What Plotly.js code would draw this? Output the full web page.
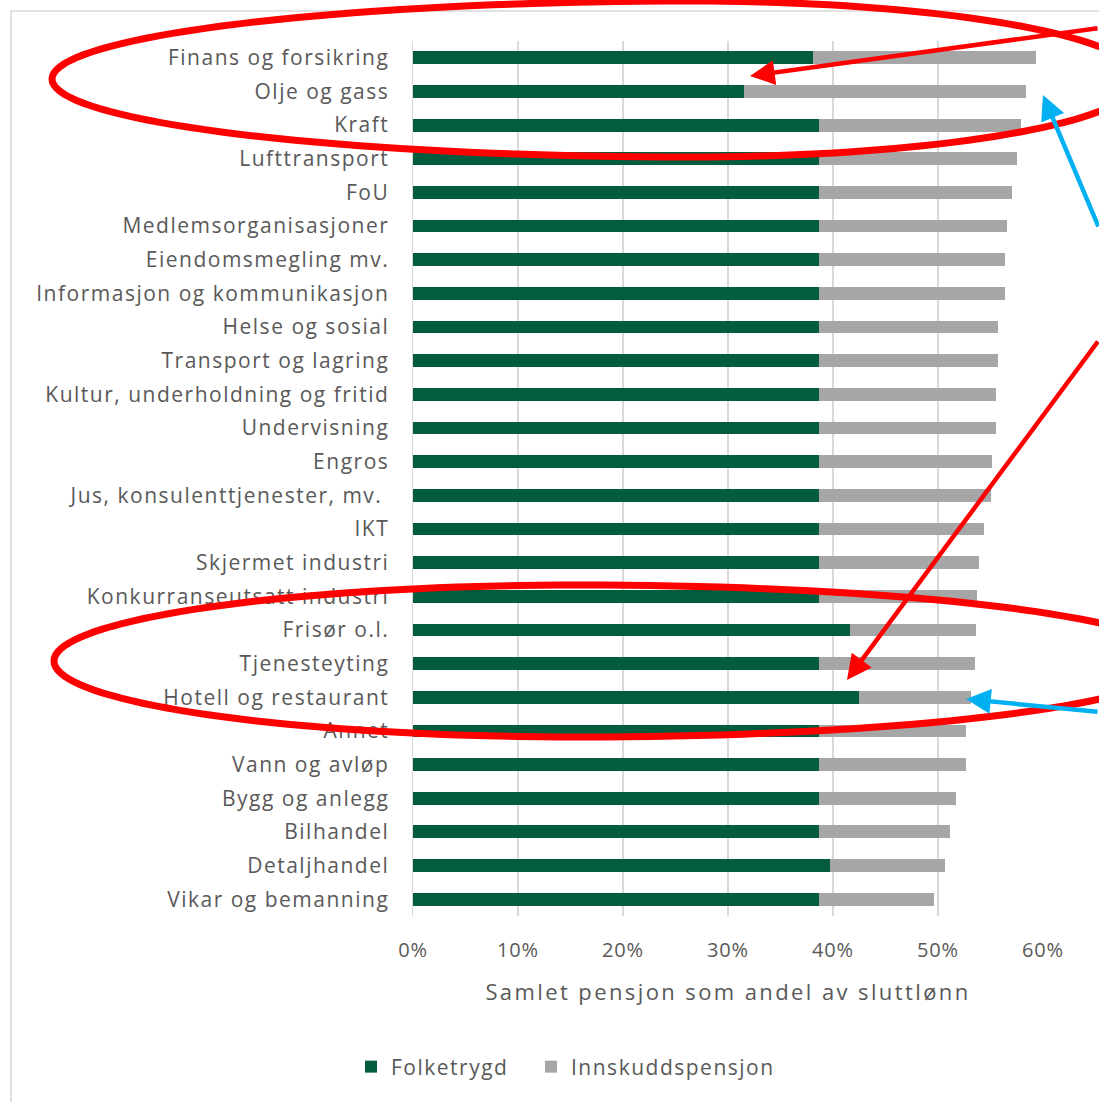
<!DOCTYPE html>
<html>
<head>
<meta charset="utf-8">
<script src="https://cdn.plot.ly/plotly-3.0.1.min.js"></script>
<style>
html,body{margin:0;padding:0;background:#fff;}
#chart{width:1099px;height:1102px;}
#chart .ytick text{letter-spacing:1.5px;}
#chart .xtick text{letter-spacing:0.8px;}
#chart .xtitle{letter-spacing:2.4px;}
#chart .legendtext{letter-spacing:1.5px;}
#chart .legend, #chart .legend *{clip-path:none !important;}
</style>
</head>
<body>
<div id="chart"></div>
<script>
// Categories, top to bottom
const categories = [
  "Finans og forsikring","Olje og gass","Kraft","Lufttransport","FoU",
  "Medlemsorganisasjoner","Eiendomsmegling mv.","Informasjon og kommunikasjon",
  "Helse og sosial","Transport og lagring","Kultur, underholdning og fritid",
  "Undervisning","Engros","Jus, konsulenttjenester, mv. ","IKT","Skjermet industri",
  "Konkurranseutsatt industri","Frisør o.l.","Tjenesteyting","Hotell og restaurant",
  "Annet","Vann og avløp","Bygg og anlegg","Bilhandel","Detaljhandel","Vikar og bemanning"
];
// Folketrygd share of final salary
const folketrygd = [
  0.381,0.315,0.387,0.387,0.387,
  0.387,0.387,0.387,
  0.387,0.387,0.387,
  0.387,0.387,0.387,0.387,0.387,
  0.387,0.416,0.387,0.425,
  0.387,0.387,0.387,0.387,0.397,0.387
];
// Innskuddspensjon share of final salary
const innskudd = [
  0.212,0.269,0.192,0.188,0.183,
  0.179,0.177,0.177,
  0.170,0.170,0.168,
  0.168,0.164,0.163,0.157,0.152,
  0.150,0.120,0.148,0.106,
  0.140,0.140,0.130,0.124,0.110,0.109
];
const xTickVals = [0,0.1,0.2,0.3,0.4,0.5,0.6];
const xTickText = ["0%","10%","20%","30%","40%","50%","60%"];
const seriesNames = ["Folketrygd","Innskuddspensjon"];

// plot-area geometry in page pixels (for decoration overlay)
const L = 413, R = 1043, T = 41, B = 916;
const px = p => (p - L) / (R - L);
const py = p => (B - p) / (B - T);

function ellipsePath(cx, cy, aL, aR, b) {
  let d = "";
  const n = 160;
  for (let i = 0; i <= n; i++) {
    const t = (i / n) * 2 * Math.PI;
    const c = Math.cos(t), s = Math.sin(t);
    const x = cx + (c >= 0 ? aR : aL) * c;
    const y = cy + b * s;
    d += (i === 0 ? "M" : "L") + px(x).toFixed(5) + "," + py(y).toFixed(5) + " ";
  }
  return d + "Z";
}

const font = "Open Sans, Noto Sans, sans-serif";
const textColor = "#595959";

const traces = [
  {type:"bar", orientation:"h", name:seriesNames[0], y:categories, x:folketrygd,
   marker:{color:"#035c3e"}, hoverinfo:"skip"},
  {type:"bar", orientation:"h", name:seriesNames[1], y:categories, x:innskudd,
   marker:{color:"#a6a6a6"}, hoverinfo:"skip"}
];

const shapes = [
  {type:"rect", xref:"paper", yref:"paper", x0:px(11), x1:px(1120), y0:py(11), y1:py(1120),
   line:{color:"#d9d9d9", width:1.5}, fillcolor:"rgba(0,0,0,0)", layer:"below"},
  {type:"path", xref:"paper", yref:"paper", path:ellipsePath(690, 79, 638, 450, 78),
   line:{color:"#ff0000", width:7}, fillcolor:"rgba(0,0,0,0)"},
  {type:"path", xref:"paper", yref:"paper", path:ellipsePath(580, 661, 526, 600, 76),
   line:{color:"#ff0000", width:7}, fillcolor:"rgba(0,0,0,0)"}
];

function arrow(tipX, tipY, tailX, tailY, color, w) {
  return {xref:"paper", yref:"paper", x:px(tipX), y:py(tipY), text:"", showarrow:true,
    ax:tailX - tipX, ay:tailY - tipY, arrowhead:2, arrowsize:1.1, arrowwidth:w,
    arrowcolor:color, standoff:0, startstandoff:0};
}
const annotations = [
  arrow(750, 76, 1115, 28, "#ff0000", 4.5),
  arrow(847, 680, 1130, 340, "#ff0000", 4.5),
  arrow(1043, 95, 1112, 228, "#00b0f0", 4.5),
  arrow(966, 699, 1115, 712, "#00b0f0", 4.5)
];

const layout = {
  width:1099, height:1102,
  margin:{l:L, r:1099 - R, t:T, b:1102 - B, pad:0},
  paper_bgcolor:"#ffffff", plot_bgcolor:"#ffffff",
  barmode:"stack", bargap:0.62,
  font:{family:font, color:textColor, size:20},
  showlegend:true,
  legend:{orientation:"h", x:px(351), xanchor:"left", y:py(1067), yanchor:"middle",
          font:{family:font, size:21, color:textColor}, traceorder:"normal",
          itemwidth:30, entrywidth:135, entrywidthmode:"pixels", bgcolor:"rgba(0,0,0,0)"},
  xaxis:{range:[0,0.6], tickvals:xTickVals, ticktext:xTickText, showgrid:true,
         gridcolor:"#d9d9d9", gridwidth:1.5, zeroline:false, showline:false,
         ticks:"", ticklabelstandoff:20, tickfont:{family:font, size:20, color:textColor},
         title:{text:"Samlet pensjon som andel av sluttlønn", standoff:22,
                font:{family:font, size:22, color:textColor}},
         fixedrange:true},
  yaxis:{autorange:"reversed", type:"category", showgrid:false, zeroline:false,
         showline:true, linecolor:"#d9d9d9", linewidth:1.5, ticks:"",
         ticklabelstandoff:18, tickfont:{family:font, size:21, color:textColor},
         fixedrange:true},
  shapes:shapes,
  annotations:annotations
};

Plotly.newPlot("chart", traces, layout, {displayModeBar:false, staticPlot:true});
</script>
</body>
</html>
